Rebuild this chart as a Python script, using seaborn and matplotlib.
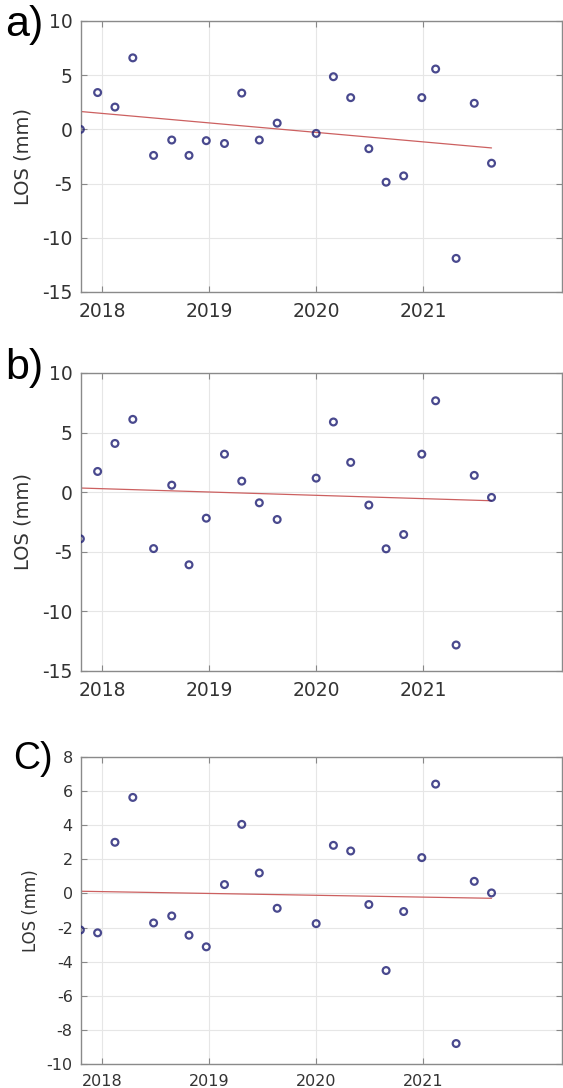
import numpy as np
import pandas as pd
import seaborn as sns
import matplotlib.pyplot as plt

# acquisition dates (same for all three points)
dates = ['2017-10-18', '2017-12-16', '2018-02-13', '2018-04-15', '2018-06-25',
         '2018-08-26', '2018-10-24', '2018-12-22', '2019-02-22', '2019-04-22',
         '2019-06-21', '2019-08-21', '2020-01-01', '2020-02-29', '2020-04-28',
         '2020-06-29', '2020-08-27', '2020-10-26', '2020-12-27', '2021-02-13',
         '2021-04-24', '2021-06-25', '2021-08-23']

los_a = [0.0, 3.4, 2.06, 6.6, -2.4, -0.98, -2.4, -1.04, -1.3, 3.35, -0.98, 0.58,
         -0.37, 4.86, 2.93, -1.78, -4.87, -4.29, 2.93, 5.57, -11.9, 2.41, -3.12]
los_b = [-3.91, 1.74, 4.09, 6.11, -4.73, 0.59, -6.09, -2.18, 3.19, 0.93, -0.89, -2.29,
         1.18, 5.89, 2.5, -1.08, -4.75, -3.55, 3.19, 7.67, -12.82, 1.41, -0.44]
los_c = [-2.14, -2.31, 3.0, 5.63, -1.73, -1.32, -2.45, -3.13, 0.52, 4.05, 1.2, -0.87,
         -1.77, 2.82, 2.49, -0.65, -4.52, -1.06, 2.1, 6.41, -8.8, 0.71, 0.03]

panel_labels = ['a)', 'b)', 'C)']
year_ticks = [2018, 2019, 2020, 2021]

t = pd.to_datetime(dates)
dec_year = t.year + (t.dayofyear - 1) / 365.25

sns.set_style("whitegrid")
plt.rcParams['font.family'] = ['DejaVu Sans']
plt.rcParams['axes.unicode_minus'] = False

fig = plt.figure(figsize=(5.63, 10.88), dpi=100)
axes = [fig.add_axes([81/563, 1-292/1088, 481/563, 271/1088]),
        fig.add_axes([81/563, 1-671/1088, 481/563, 298/1088]),
        fig.add_axes([81/563, 1-1064/1088, 481/563, 307/1088])]

navy = '#1c1c72'
red = '#cc6060'
series = [los_a, los_b, los_c]
ylims = [(-15, 10), (-15, 10), (-10, 8)]
yticks = [np.arange(-15, 11, 5), np.arange(-15, 11, 5), np.arange(-10, 9, 2)]
fs = [13.5, 13.5, 11.5]
lab_pos = [(5, 25), (5, 368), (13, 759)]
lab_fs = [31, 31, 27]

for i, ax in enumerate(axes):
    df = pd.DataFrame({'t': dec_year, 'los': series[i]})
    sns.regplot(data=df, x='t', y='los', ax=ax, ci=None, color=navy,
                scatter_kws={'facecolors': 'none', 's': 24, 'linewidths': 1.6, 'zorder': 3},
                line_kws={'color': red, 'lw': 0.9})
    ax.set_xlim(2017.80, 2022.30)
    ax.set_ylim(*ylims[i])
    ax.set_xticks(year_ticks)
    ax.set_xticklabels([str(y) for y in year_ticks])
    ax.set_yticks(yticks[i])
    ax.set_xlabel('')
    ax.set_ylabel('LOS (mm)', fontsize=fs[i] + 0.5, color='#333333')
    ax.yaxis.set_label_coords(-0.1 if i < 2 else -0.085, 0.5)
    ax.grid(True, color='#e6e6e6', lw=0.8)
    ax.tick_params(direction='in', length=4, width=0.8, color='#888888',
                   labelsize=fs[i], labelcolor='#333333', top=True, right=True,
                   bottom=True, left=True)
    ax.tick_params(axis='y', pad=6)
    ax.tick_params(axis='x', pad=7)
    for s in ax.spines.values():
        s.set_color('#8a8a8a')
        s.set_linewidth(1.0)
    fig.text(lab_pos[i][0]/563, 1-lab_pos[i][1]/1088, panel_labels[i],
             fontsize=lab_fs[i], family='Liberation Sans', va='center', ha='left',
             color='black')

fig.savefig('out.png', dpi=100)
